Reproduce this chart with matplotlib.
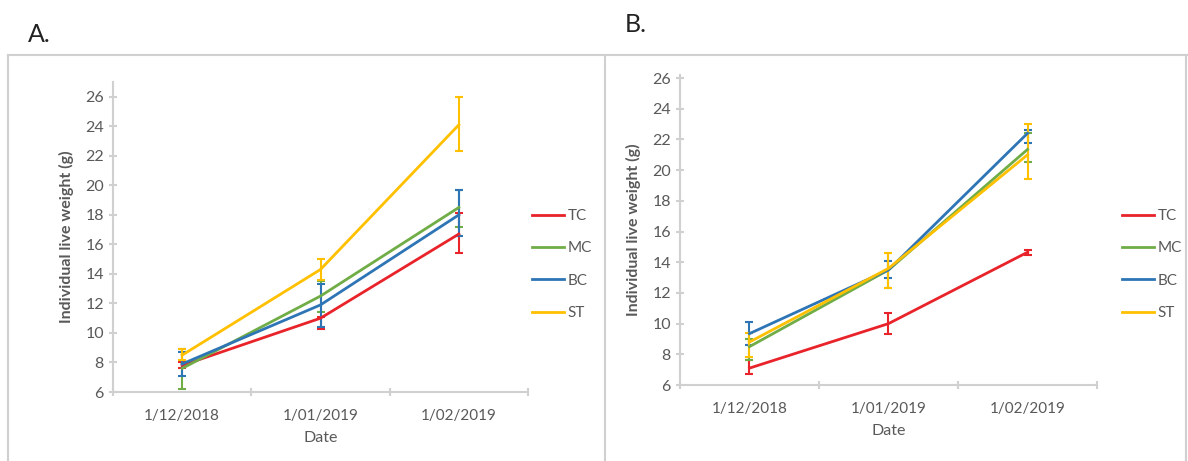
import matplotlib.pyplot as plt
from matplotlib.lines import Line2D
import numpy as np

plt.rcParams['font.family'] = ['Lato', 'DejaVu Sans']

dates = ["1/12/2018", "1/01/2019", "1/02/2019"]
groups = ["TC", "MC", "BC", "ST"]
colors = ["#e8232a", "#70ad47", "#2e75b6", "#ffc000"]

# panel A: means and error bar ends (low, high)
a_mean = {
    "TC": [7.8, 11.0, 16.7],
    "MC": [7.6, 12.5, 18.5],
    "BC": [7.9, 11.9, 18.0],
    "ST": [8.5, 14.3, 24.1],
}
a_low = {
    "TC": [7.6, 10.3, 15.4],
    "MC": [6.2, 11.4, 17.2],
    "BC": [7.1, 10.4, 16.6],
    "ST": [8.2, 13.6, 22.3],
}
a_high = {
    "TC": [8.0, 11.1, 18.1],
    "MC": [8.9, 13.5, 19.7],
    "BC": [8.7, 13.3, 19.7],
    "ST": [8.9, 15.0, 26.0],
}

# panel B
b_mean = {
    "TC": [7.1, 10.0, 14.65],
    "MC": [8.5, 13.5, 21.35],
    "BC": [9.35, 13.5, 22.4],
    "ST": [8.8, 13.6, 21.0],
}
b_low = {
    "TC": [6.7, 9.3, 14.5],
    "MC": [7.6, 12.3, 20.5],
    "BC": [8.6, 13.0, 21.8],
    "ST": [7.8, 12.3, 19.4],
}
b_high = {
    "TC": [7.6, 10.7, 14.8],
    "MC": [9.0, 14.6, 22.4],
    "BC": [10.1, 14.1, 22.6],
    "ST": [9.4, 14.6, 23.0],
}

TEXT = "#595959"
GRID = "#d0d0d0"


def draw_panel(ax, mean, low, high, ymax):
    x = np.arange(len(dates))
    for g, c in zip(groups, colors):
        m = np.array(mean[g])
        err = [m - np.array(low[g]), np.array(high[g]) - m]
        ax.errorbar(x, m, yerr=err, color=c, lw=2, capsize=3, elinewidth=1.5,
                    capthick=1.5)
    ax.set_xlim(-0.5, 2.5)
    ax.set_ylim(6, ymax)
    ax.set_yticks(np.arange(6, 27, 2))
    ax.set_xticks(x)
    ax.set_xticklabels(dates)
    ax.set_xticks([-0.5, 0.5, 1.5, 2.5], minor=True)
    ax.tick_params(axis='x', which='major', length=0, pad=12, colors=TEXT,
                   labelsize=11)
    ax.tick_params(axis='x', which='minor', length=6, direction='inout',
                   color=GRID, width=1.5)
    ax.tick_params(axis='y', length=6, direction='inout', color=GRID,
                   width=1.5, labelcolor=TEXT, labelsize=11.5)
    for s in ['top', 'right']:
        ax.spines[s].set_visible(False)
    for s in ['left', 'bottom']:
        ax.spines[s].set_color(GRID)
        ax.spines[s].set_linewidth(1.5)
    ax.set_xlabel("Date", color=TEXT, fontsize=11.5, labelpad=6)
    ax.set_ylabel("Individual live weight (g)", color=TEXT, fontsize=11.5,
                  fontweight='bold', labelpad=8)
    handles = [Line2D([0], [0], color=c, lw=2) for c in colors]
    return handles


fig = plt.figure(figsize=(11.88, 4.61), dpi=100)
W, H = 1188, 461

ax_a = fig.add_axes([113 / W, 1 - 392 / H, (528 - 113) / W, (392 - 82) / H])
ax_b = fig.add_axes([680 / W, 1 - 385 / H, (1097 - 680) / W, (385 - 75) / H])

ha = draw_panel(ax_a, a_mean, a_low, a_high, 27.0)
hb = draw_panel(ax_b, b_mean, b_low, b_high, 26.2)

leg_kw = dict(loc='upper left', frameon=False, borderpad=0, borderaxespad=0,
              handlelength=2.1, handletextpad=0.25, labelspacing=1.2,
              labelcolor=TEXT, fontsize=11)
fig.legend(ha, groups, bbox_to_anchor=(532 / W, 1 - 209 / H), **leg_kw)
fig.legend(hb, groups, bbox_to_anchor=(1122 / W, 1 - 209 / H), **leg_kw)

# panel frames
fig.add_artist(Line2D([8 / W, 1], [1 - 55 / H] * 2, color=GRID, lw=1.5))
fig.add_artist(Line2D([8 / W] * 2, [0, 1 - 55 / H], color=GRID, lw=1.5))
fig.add_artist(Line2D([605 / W] * 2, [0, 1 - 55 / H], color=GRID, lw=1.5))
fig.add_artist(Line2D([1186 / W] * 2, [0, 1 - 55 / H], color=GRID, lw=1.5))

fig.text(28 / W, 1 - 35 / H, "A.", fontsize=18, va='center', color='#222222')
fig.text(625 / W, 1 - 25 / H, "B.", fontsize=18, va='center', color='#222222')

fig.savefig("out.png", dpi=100)
